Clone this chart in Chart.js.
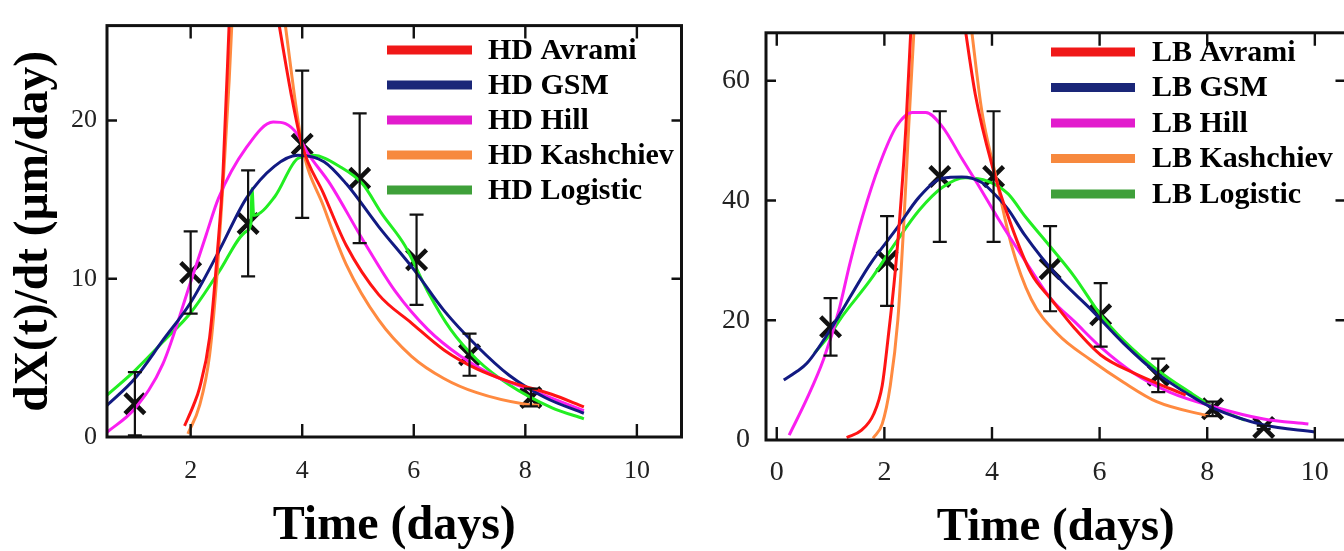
<!DOCTYPE html>
<html>
<head>
<meta charset="utf-8">
<script src="https://cdn.jsdelivr.net/npm/chart.js@4.4.1/dist/chart.umd.min.js"></script>
<style>
  html, body { margin: 0; padding: 0; background: #fff; overflow: hidden; width: 1344px; height: 551px; }
  #hd { position: absolute; left: 0; top: 0; }
  #lb { position: absolute; left: 700px; top: 0; }
</style>
</head>
<body>
<canvas id="hd" width="700" height="551"></canvas>
<canvas id="lb" width="664" height="551"></canvas>
<script>
const models = ['Avrami', 'GSM', 'Hill', 'Kashchiev', 'Logistic'];

// HD panel: measured growth rate with error bars
const hdPointX = [1, 2, 3.03, 4, 5.03, 6.05, 7, 8.1];
const hdPointY = [2.1, 10.4, 13.5, 18.5, 16.35, 11.2, 5.2, 2.5];
const hdPointErr = [2.0, 2.6, 3.35, 4.65, 4.1, 2.85, 1.33, 0.56];

// HD fitted curves [x, y]; Avrami and Kashchiev run off the top, so two branches each
const hdAvramiRise = [[1.89, 0.7], [2.05, 2.0], [2.16, 3.1], [2.34, 6.3], [2.48, 11.7], [2.58, 16.7], [2.7, 27]];
const hdAvramiFall = [[3.54, 27], [3.8, 21.7], [4.0, 18.4], [4.38, 15.4], [4.79, 12.1], [5.37, 9.0], [5.96, 7.2],
  [6.54, 5.5], [7.13, 4.3], [7.71, 3.5], [8.47, 2.7], [9.05, 1.9]];
const hdGSM = [[0.5, 2.0], [1.0, 3.7], [1.5, 6.1], [2.0, 8.5], [2.5, 11.7], [3.0, 15.1], [3.5, 17.1], [3.92, 17.8],
  [4.39, 17.4], [4.79, 16.0], [5.37, 13.3], [6.02, 10.5], [6.54, 8.0], [7.13, 5.75], [7.71, 3.9], [8.36, 2.48], [9.05, 1.5]];
const hdHill = [[0.5, 0.3], [1.0, 1.8], [1.5, 4.6], [2.0, 9.8], [2.28, 12.8], [2.5, 15.1], [3.0, 18.3], [3.48, 19.9],
  [3.7, 19.8], [3.92, 19.1], [4.09, 18.0], [4.5, 16.0], [5.08, 12.5], [5.67, 9.2], [6.25, 6.8], [6.84, 5.1],
  [7.42, 3.9], [8.0, 3.1], [9.05, 1.66]];
const hdKashchievRise = [[1.95, 0.2], [2.16, 2.0], [2.34, 5.2], [2.48, 10.6], [2.6, 17.1], [2.69, 22.5], [2.75, 27]];
const hdKashchievFall = [[3.66, 27], [4.0, 18.4], [4.38, 14.6], [4.79, 10.9], [5.37, 7.4], [5.96, 5.1], [6.54, 3.7],
  [7.13, 2.8], [8.0, 2.07], [8.25, 2.0]];
const hdLogistic = [[0.5, 2.65], [1.0, 4.2], [1.5, 6.0], [2.0, 7.85], [2.5, 10.4], [3.0, 13.0], [3.08, 13.5], [3.1, 15.7],
  [3.13, 14.0], [3.51, 15.2], [3.92, 17.6], [4.2, 17.8], [4.67, 17.1], [5.08, 16.0], [5.43, 14.1], [5.84, 12.1],
  [6.25, 9.2], [6.66, 6.8], [7.13, 4.9], [7.71, 3.3], [8.47, 1.86], [9.05, 1.15]];

// LB panel
const lbPointX = [1, 2.05, 3.03, 4.03, 5.08, 6.02, 7.09, 8.1, 9.05];
const lbPointY = [18.9, 29.9, 44.0, 44.0, 28.6, 20.9, 10.8, 5.2, 2.1];
const lbPointErr = [4.8, 7.5, 10.9, 10.9, 7.1, 5.3, 2.8, 1.2, 0.3];

const lbAvramiRise = [[1.3, 0.4], [1.57, 1.6], [1.8, 4.3], [1.96, 9.1], [2.07, 17.1], [2.2, 28], [2.31, 40], [2.4, 52.3], [2.5, 70]];
const lbAvramiFall = [[3.48, 70], [3.69, 57.7], [4.0, 45.9], [4.36, 35.8], [4.73, 27.8], [5.1, 23.5], [5.53, 18.7],
  [6.02, 14.2], [6.63, 11.2], [7.3, 8.6], [7.6, 7.5]];
const lbGSM = [[0.13, 10.0], [0.35, 11.3], [0.56, 12.8], [1.03, 18.9], [1.73, 29.3], [2.22, 35.2], [2.65, 40.6],
  [3.08, 43.7], [3.44, 43.9], [3.81, 43.0], [4.0, 41.5], [4.3, 38.5], [4.61, 34.2], [5.22, 27.3], [5.83, 21.9],
  [6.45, 16.1], [7.06, 11.2], [7.67, 7.5], [8.1, 5.35], [9.05, 2.5], [10.0, 1.33]];
const lbHill = [[0.23, 0.8], [0.56, 6.9], [0.87, 13.5], [1.15, 21.5], [1.36, 29.5], [1.6, 37.5], [1.91, 46.0],
  [2.22, 52.3], [2.52, 54.7], [2.77, 54.7], [3.08, 52.3], [3.44, 47.0], [3.75, 42.5], [4.12, 36.9], [4.61, 30.0],
  [5.1, 23.5], [5.53, 19.8], [6.02, 15.5], [6.63, 11.2], [7.3, 8.0], [8.1, 5.6], [9.05, 3.5], [9.88, 2.67]];
const lbKashchievRise = [[1.79, 0.3], [1.96, 2.7], [2.11, 9.1], [2.25, 20], [2.36, 36], [2.45, 52], [2.56, 70]];
const lbKashchievFall = [[3.6, 70], [3.81, 55.0], [4.06, 44.5], [4.36, 32.6], [4.73, 23.5], [5.22, 17.7], [5.83, 13.4],
  [6.45, 9.6], [7.06, 6.4], [8.02, 4.0]];
const lbLogistic = [[0.7, 14.5], [1.03, 18.1], [1.18, 20.2], [1.73, 26.6], [2.22, 33.1], [2.65, 38.4], [3.08, 42.2],
  [3.5, 43.8], [3.93, 43.2], [4.3, 41.1], [4.61, 37.4], [5.1, 32.1], [5.53, 27.3], [6.02, 20.9], [6.45, 16.6],
  [7.06, 11.8], [7.67, 8.0], [8.1, 5.6], [8.7, 3.3]];

const hdXTicks = [2, 4, 6, 8, 10];
const hdYTicks = [0, 10, 20];
const lbXTicks = [0, 2, 4, 6, 8, 10];
const lbYTicks = [0, 20, 40, 60];

const curveColors = ['#ff1414', '#121a82', '#fa1ef0', '#ff8a40', '#22ee22'];
const legendColors = ['#f01818', '#1a2678', '#e21ccd', '#f7893e', '#3fa03a'];
const serif = "'Liberation Serif', 'Times New Roman', serif";

// join branches with a null point so the line breaks between them
function toPoints(...parts) {
  const out = [];
  parts.forEach((p, i) => {
    if (i > 0) out.push({x: (parts[i - 1][parts[i - 1].length - 1][0] + p[0][0]) / 2, y: null});
    p.forEach(([x, y]) => out.push({x, y}));
  });
  return out;
}

const framePlugin = {
  id: 'frame',
  afterDatasetsDraw(chart, args, o) {
    const {ctx, chartArea: a, scales: {x, y}} = chart;
    ctx.save();
    // error bars
    chart.data.datasets.forEach(ds => {
      if (!ds.errors) return;
      ctx.strokeStyle = '#111';
      ctx.lineWidth = 2.2;
      ds.data.forEach((p, i) => {
        const e = ds.errors[i];
        const px = x.getPixelForValue(p.x);
        const t = y.getPixelForValue(p.y + e);
        const b = y.getPixelForValue(Math.max(p.y - e, y.min));
        ctx.beginPath();
        ctx.moveTo(px, t); ctx.lineTo(px, b);
        ctx.moveTo(px - 7, t); ctx.lineTo(px + 7, t);
        ctx.moveTo(px - 7, b); ctx.lineTo(px + 7, b);
        ctx.stroke();
      });
    });
    // box and inward ticks
    ctx.strokeStyle = '#111';
    ctx.lineWidth = 2.4;
    ctx.beginPath();
    o.xTicks.forEach(v => {
      const px = x.getPixelForValue(v);
      ctx.moveTo(px, a.bottom); ctx.lineTo(px, a.bottom - o.tickLen);
      ctx.moveTo(px, a.top); ctx.lineTo(px, a.top + o.tickLen);
    });
    o.yTicks.forEach(v => {
      if (v === y.min) return;
      const py = y.getPixelForValue(v);
      ctx.moveTo(a.left, py); ctx.lineTo(a.left + o.tickLen - 3, py);
      ctx.moveTo(a.right, py); ctx.lineTo(a.right - o.tickLen + 3, py);
    });
    ctx.stroke();
    ctx.lineWidth = 3;
    ctx.strokeRect(a.left, a.top, a.right - a.left, a.bottom - a.top);
    // legend
    const lg = o.legend;
    ctx.font = 'bold ' + lg.size + 'px ' + serif;
    ctx.textBaseline = 'middle';
    ctx.textAlign = 'left';
    chart.data.datasets.filter(d => d.legendColor).forEach((d, i) => {
      const yy = lg.y + i * lg.dy;
      ctx.strokeStyle = d.legendColor;
      ctx.lineWidth = 9;
      ctx.beginPath();
      ctx.moveTo(lg.x, yy); ctx.lineTo(lg.x + lg.len, yy);
      ctx.stroke();
      ctx.fillStyle = '#000';
      ctx.fillText(d.label, lg.x + lg.len + lg.gap, yy + 1);
    });
    ctx.restore();
  }
};

function makeChart(id, prefix, curves, px, py, perr, xr, yr, xTicks, yTicks, layout) {
  const datasets = curves.map((c, i) => ({
    label: prefix + ' ' + models[i],
    data: c,
    borderColor: curveColors[i],
    legendColor: legendColors[i],
    borderWidth: 3,
    pointRadius: 0,
    showLine: true,
    spanGaps: false,
    cubicInterpolationMode: 'monotone'
  }));
  datasets.push({
    label: prefix + ' data',
    data: px.map((x, i) => ({x, y: py[i]})),
    errors: perr,
    showLine: false,
    pointStyle: 'crossRot',
    pointRadius: 14,
    pointBorderWidth: 4.5,
    pointBorderColor: '#111',
    pointBackgroundColor: '#111'
  });
  return new Chart(document.getElementById(id), {
    type: 'scatter',
    data: {datasets},
    options: {
      responsive: false,
      animation: false,
      layout: {padding: layout.padding},
      plugins: {
        legend: {display: false},
        tooltip: {enabled: false},
        frame: {xTicks, yTicks, tickLen: 13, legend: layout.legend}
      },
      scales: {
        x: {
          type: 'linear', min: xr[0], max: xr[1],
          afterBuildTicks: s => { s.ticks = xTicks.map(v => ({value: v})); },
          afterFit: s => { s.height = layout.xHeight; },
          grid: {display: false, drawTicks: false},
          border: {display: false},
          ticks: {font: {family: serif, size: layout.tickSize}, color: '#222', padding: layout.xPad, maxRotation: 0, autoSkip: false},
          title: {display: true, text: 'Time (days)', color: '#000', padding: 0,
            font: {family: serif, size: layout.xTitleSize, weight: 'bold', lineHeight: 1}}
        },
        y: {
          type: 'linear', min: yr[0], max: yr[1],
          afterBuildTicks: s => { s.ticks = yTicks.map(v => ({value: v})); },
          afterFit: s => { s.width = layout.yWidth; },
          grid: {display: false, drawTicks: false},
          border: {display: false},
          ticks: {font: {family: serif, size: layout.tickSize}, color: '#222', padding: layout.yPad, autoSkip: false},
          title: layout.yTitle
        }
      }
    },
    plugins: [framePlugin]
  });
}

makeChart('hd', 'HD',
  [toPoints(hdAvramiRise, hdAvramiFall), toPoints(hdGSM), toPoints(hdHill),
   toPoints(hdKashchievRise, hdKashchievFall), toPoints(hdLogistic)],
  hdPointX, hdPointY, hdPointErr, [0.5, 10.8], [0, 26], hdXTicks, hdYTicks,
  {
    padding: {left: 0, right: 11, top: 14, bottom: 0},
    xHeight: 114, yWidth: 107, tickSize: 26, xPad: 19, yPad: 10, xTitleSize: 48,
    yTitle: {display: true, text: 'dX(t)/dt (μm/day)', color: '#000', padding: {top: 11, bottom: 0},
      font: {family: serif, size: 47.5, weight: 'bold', lineHeight: 1}},
    legend: {x: 387, y: 50, dy: 35, len: 85, gap: 16, size: 30}
  });

makeChart('lb', 'LB',
  [toPoints(lbAvramiRise, lbAvramiFall), toPoints(lbGSM), toPoints(lbHill),
   toPoints(lbKashchievRise, lbKashchievFall), toPoints(lbLogistic)],
  lbPointX, lbPointY, lbPointErr, [-0.2, 10.57], [0, 68], lbXTicks, lbYTicks,
  {
    padding: {left: 0, right: 12, top: 17, bottom: 0},
    xHeight: 111, yWidth: 66, tickSize: 28, xPad: 16, yPad: 16, xTitleSize: 47,
    yTitle: {display: false},
    legend: {x: 351, y: 52, dy: 35.5, len: 84, gap: 17, size: 30}
  });
</script>
</body>
</html>
